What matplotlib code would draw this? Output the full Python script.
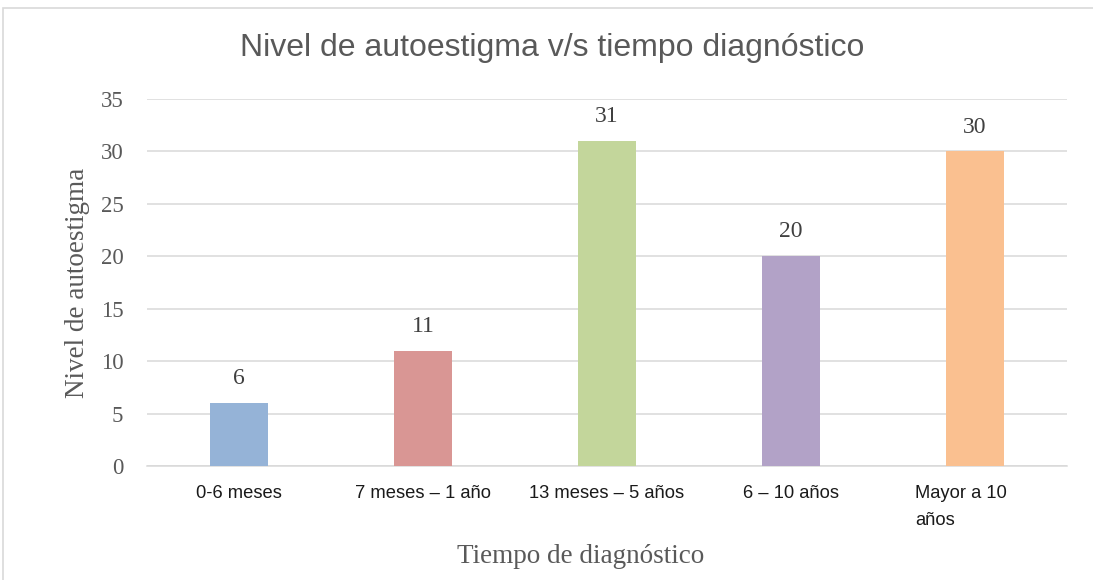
import matplotlib
matplotlib.use("Agg")
import matplotlib.pyplot as plt
from matplotlib.patches import Rectangle

categories = ["0-6 meses", "7 meses – 1 año", "13 meses – 5 años", "6 – 10 años", "Mayor a 10\naños"]
values = [6, 11, 31, 20, 30]
colors = ["#95B3D7", "#D99694", "#C3D69B", "#B2A2C7", "#FAC090"]
yticks = [0, 5, 10, 15, 20, 25, 30, 35]

sans = "Liberation Sans"
serif = "Liberation Serif"

fig = plt.figure(figsize=(10.93, 5.8), dpi=100)
fig.patches.append(Rectangle((3/1093, -0.2), 1.2, 1.2 - 8/580, transform=fig.transFigure,
                             fill=False, edgecolor="#D9D9D9", linewidth=1.2))
ax = fig.add_axes([147/1093, 1 - 466/580, 920/1093, 367/580])

x = list(range(len(categories)))
ax.bar(x, values, width=0.315, color=colors, zorder=3)
for xi, v in zip(x, values):
    ax.annotate(str(v), (xi, v), xytext=(0, 17.5), textcoords="offset points",
                ha="center", va="center", fontsize=17, family=serif, color="#404040")

ax.set_xlim(-0.5, len(categories) - 0.5)
ax.set_ylim(0, 35)
ax.set_yticks(yticks)
ax.set_yticklabels([str(t) for t in yticks], family=serif, fontsize=16.5, color="#595959")
ax.set_xticks(x)
ax.set_xticklabels(categories[:-1] + [""], family=sans, fontsize=13.2, color="#1a1a1a")
ax.annotate(categories[-1], (x[-1], 0), xycoords=("data", "axes fraction"),
            xytext=(-60 * 72 / 100, -14), textcoords="offset points",
            ha="left", va="top", family=sans, fontsize=13.2, color="#1a1a1a",
            multialignment="left", linespacing=1.75)
ax.tick_params(axis="both", length=0)
ax.tick_params(axis="y", pad=17)
ax.tick_params(axis="x", pad=14)
ax.grid(axis="y", color="#D9D9D9", linewidth=1.1, zorder=0)
for s in ["top", "right", "left"]:
    ax.spines[s].set_visible(False)
ax.spines["bottom"].set_color("#D9D9D9")
ax.spines["bottom"].set_linewidth(1.1)

ax.set_xlabel("Tiempo de diagnóstico", family=serif, fontsize=19.5, color="#595959", labelpad=0)
ax.xaxis.set_label_coords(0.471, -0.212)
ax.set_ylabel("Nivel de autoestigma", family=serif, fontsize=19.5, color="#595959")
ax.yaxis.set_label_coords(-0.062, 0.5)
fig.text(552/1093, 1 - 48/580, "Nivel de autoestigma v/s tiempo diagnóstico", ha="center", va="center",
         family=sans, fontsize=23, color="#595959")

fig.savefig("out.png", dpi=100)
